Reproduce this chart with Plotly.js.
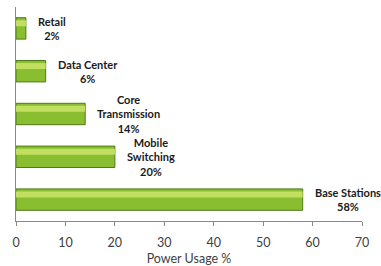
<!DOCTYPE html>
<html><head><meta charset="utf-8">
<script src="https://cdn.plot.ly/plotly-3.0.1.min.js"></script>
<style>html,body{margin:0;padding:0;background:#fff}</style>
</head><body>
<div id="chart" style="width:381px;height:266px"></div>
<script>
const categories = ["Base Stations", "Mobile Switching", "Core Transmission", "Data Center", "Retail"];
const labels = ["Base Stations<br>58%", "Mobile<br>Switching<br>20%", "Core<br>Transmission<br>14%", "Data Center<br>6%", "Retail<br>2%"];
const values = [58, 20, 14, 6, 2];
const xTicks = [0, 10, 20, 30, 40, 50, 60, 70];

const base = {
  type: 'bar', orientation: 'h', x: values, y: categories,
  width: 0.5, offset: -0.25,
  marker: {color: '#88BE30', line: {color: '#4F7A18', width: 1}},
  hoverinfo: 'none', showlegend: false
};
const shine = {
  type: 'bar', orientation: 'h', x: values, y: categories,
  width: 0.14, offset: 0.05,
  marker: {color: '#C2DF62', line: {width: 0}},
  hoverinfo: 'none', showlegend: false
};

const annotations = values.map((v, i) => ({
  x: v, y: categories[i], xref: 'x', yref: 'y',
  text: '<b>' + labels[i] + '</b>',
  showarrow: false, xanchor: 'left', yanchor: 'middle', align: 'center',
  xshift: 10,
  font: {family: 'Lato, "Open Sans", sans-serif', size: 11, color: '#1a1a1a'}
}));

Plotly.newPlot('chart', [base, shine], {
  width: 381, height: 266,
  margin: {l: 16, r: 19, t: 7, b: 45},
  paper_bgcolor: '#fff', plot_bgcolor: '#fff',
  barmode: 'overlay',
  xaxis: {
    range: [0, 70], tickvals: xTicks, ticktext: xTicks.map(String),
    showgrid: false, zeroline: false, showline: true, linecolor: '#8a8a8a', linewidth: 1,
    ticks: 'outside', ticklen: 4, tickcolor: '#8a8a8a', ticklabelstandoff: 6,
    tickfont: {family: 'Lato, "Open Sans", sans-serif', size: 12.5, color: '#404040'},
    title: {text: 'Power Usage %', font: {family: 'Lato, "Open Sans", sans-serif', size: 12.5, color: '#404040'}, standoff: 5}
  },
  yaxis: {
    type: 'category', categoryorder: 'array', categoryarray: categories,
    range: [-0.5, 4.5], showticklabels: false, showgrid: false, zeroline: false,
    showline: true, linecolor: '#8a8a8a', linewidth: 1, ticks: ''
  },
  annotations: annotations
}, {staticPlot: true, displayModeBar: false});
</script>
</body></html>
